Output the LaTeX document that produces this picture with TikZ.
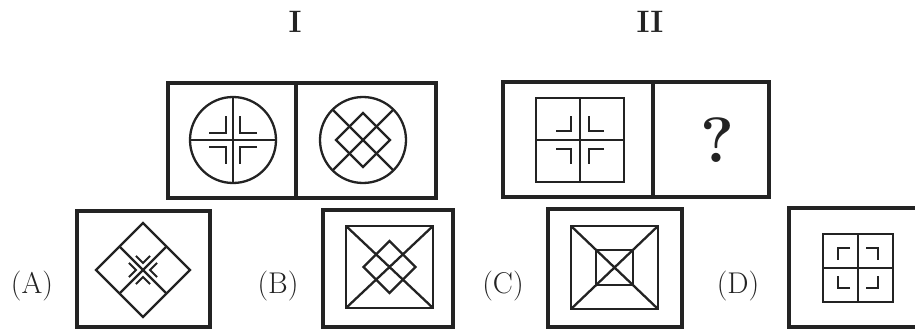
\documentclass[tikz,border=0pt]{standalone}
\usepackage{tikz}
\usetikzlibrary{calc}
\definecolor{ink}{RGB}{35,35,35}
\tikzset{
  frame/.style={draw=ink, line width=3.2pt},
  figline/.style={draw=ink, line width=2.3pt},
  thinline/.style={draw=ink, line width=2pt},
  optlabel/.style={text=ink, font=\fontsize{30}{32}\selectfont, anchor=base,
                   inner sep=0pt},
  setlabel/.style={text=ink, font=\fontsize{31}{33}\selectfont\bfseries,
                   anchor=base, inner sep=0pt}
}

\begin{document}
\begin{tikzpicture}[x=1pt,y=-1pt]
  \useasboundingbox (0,0) rectangle (915,329);
  \clip (0,0) rectangle (915,329);

  %% -- Headings ------------------------------------------------------------
  \node[setlabel] (headI)  at (295,33) {I};
  \node[setlabel] (headII) at (650,33) {II};

  %% -- Pair I --------------------------------------------------------------
  \draw[frame] (168,83) rectangle (436,198);
  \draw[frame] (296,83) -- (296,198);

  % circle, cross and four corner brackets
  \begin{scope}[shift={(233,140)}]
    \draw[figline] (0,0) circle (43);
    \draw[figline] (-43,0) -- (43,0) (0,-43) -- (0,43);
    \foreach \sx/\sy in {-1/-1,1/-1,-1/1,1/1}
      \draw[thinline] (\sx*24,\sy*7) -- (\sx*7,\sy*7) -- (\sx*7,\sy*24);
  \end{scope}

  % circle, diagonal cross and diamond
  \begin{scope}[shift={(363,140)}]
    \draw[figline] (0,0) circle (43);
    \draw[figline] (-30.4,-30.4) -- (30.4,30.4) (-30.4,30.4) -- (30.4,-30.4);
    \draw[figline] (0,-27) -- (27,0) -- (0,27) -- (-27,0) -- cycle;
  \end{scope}

  %% -- Pair II -------------------------------------------------------------
  \draw[frame] (503,82) rectangle (769,197);
  \draw[frame] (653,82) -- (653,197);

  \begin{scope}[shift={(580,140)}]
    \draw[frame, line width=2.8pt] (-44,-42) rectangle (44,42);
    \draw[figline] (-44,0) -- (44,0) (0,-42) -- (0,42);
    \foreach \sx/\sy in {-1/-1,1/-1,-1/1,1/1}
      \draw[thinline] (\sx*24,\sy*9) -- (\sx*9,\sy*9) -- (\sx*9,\sy*24);
  \end{scope}

  \node[text=ink, font=\fontsize{64}{70}\selectfont\bfseries, inner sep=0pt]
    (unknown) at (717,140) {?};

  %% -- Options -------------------------------------------------------------
  \node[optlabel] (labA) at (32,293)  {(A)};
  \node[optlabel] (labB) at (278,293) {(B)};
  \node[optlabel] (labC) at (503,293) {(C)};
  \node[optlabel] (labD) at (738,293) {(D)};

  % (A) rotated square with chevrons
  \draw[frame] (77,211) rectangle (210,327);
  \begin{scope}[shift={(143,270)}, rotate=45]
    \draw[figline] (-33.2,-33.2) rectangle (33.2,33.2);
    \draw[figline] (-33.2,0) -- (33.2,0) (0,-33.2) -- (0,33.2);
    \foreach \sx/\sy in {-1/-1,1/-1,-1/1,1/1}
      \draw[thinline] (\sx*15,\sy*5) -- (\sx*5,\sy*5) -- (\sx*5,\sy*15);
  \end{scope}

  % (B) square, diagonals and diamond
  \draw[frame] (323,210) rectangle (453,327);
  \draw[frame, line width=2.8pt] (346,226) rectangle (433,308);
  \draw[figline] (346,226) -- (433,308) (346,308) -- (433,226);
  \begin{scope}[shift={(389.5,267)}]
    \draw[figline] (0,-26) -- (26,0) -- (0,26) -- (-26,0) -- cycle;
  \end{scope}

  % (C) square in square with diagonals
  \draw[frame] (548,209) rectangle (682,327);
  \draw[frame, line width=2.8pt] (571,226) rectangle (658,309);
  \draw[figline] (571,226) -- (658,309) (571,309) -- (658,226);
  \draw[figline, line width=2.6pt] (596,250) rectangle (633,285);

  % (D) square with cross and outer brackets
  \draw[frame] (789,208) rectangle (940,327);
  \begin{scope}[shift={(858,268)}]
    \draw[frame, line width=2.8pt] (-35,-34) rectangle (35,34);
    \draw[figline] (-35,0) -- (35,0) (0,-34) -- (0,34);
    \foreach \sx/\sy in {-1/-1,1/-1,-1/1,1/1}
      \draw[thinline] (\sx*8,\sy*20) -- (\sx*20,\sy*20) -- (\sx*20,\sy*8);
  \end{scope}
\end{tikzpicture}
\end{document}
